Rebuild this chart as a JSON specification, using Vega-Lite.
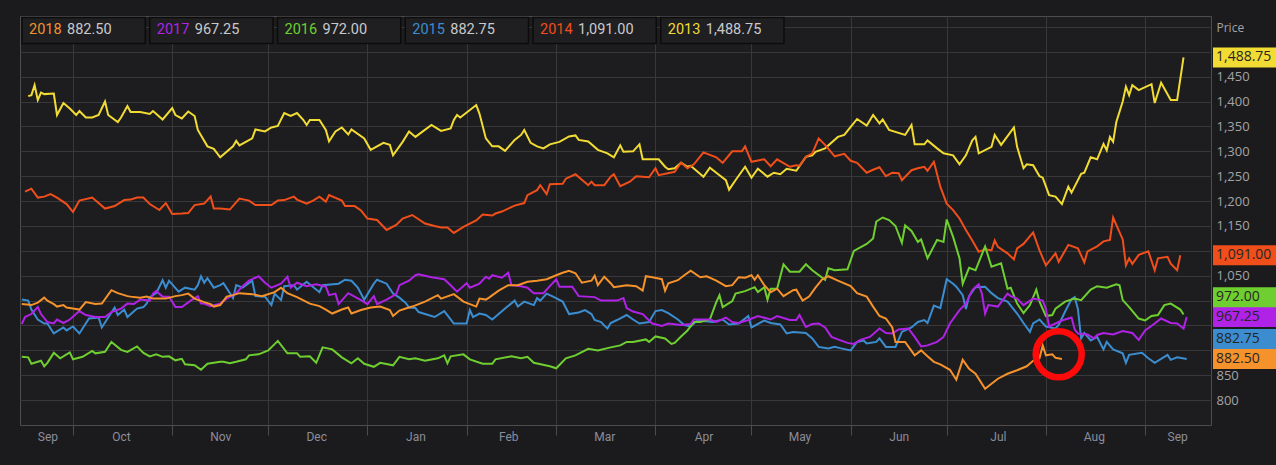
{
"$schema": "https://vega.github.io/schema/vega-lite/v6.json",
"width": 1191, "height": 409,
"autosize": {"type": "none"},
"padding": {"left": 20, "top": 16, "right": 65, "bottom": 40},
"background": "#1b1b1d",
"config": {"view": {"fill": "#1d1d1f", "stroke": "#4d4d50", "strokeWidth": 1}, "font": "Roboto"},
"datasets": {
"latest": [
{"year":"2018","last":882.5},{"year":"2017","last":967.25},{"year":"2016","last":972},{"year":"2015","last":882.75},{"year":"2014","last":1091},{"year":"2013","last":1488.75}
],
"annot": [{"date":"2018-08-05","price":892}],
"prices": [
{"year":"2013","date":"2017-09-17","price":1411},{"year":"2013","date":"2017-09-18","price":1413},{"year":"2013","date":"2017-09-19","price":1433},{"year":"2013","date":"2017-09-20","price":1403},{"year":"2013","date":"2017-09-21","price":1418},{"year":"2013","date":"2017-09-22","price":1415},{"year":"2013","date":"2017-09-25","price":1416},{"year":"2013","date":"2017-09-26","price":1373},{"year":"2013","date":"2017-09-28","price":1397},{"year":"2013","date":"2017-09-30","price":1386},{"year":"2013","date":"2017-10-02","price":1373},{"year":"2013","date":"2017-10-03","price":1381},{"year":"2013","date":"2017-10-05","price":1368},{"year":"2013","date":"2017-10-07","price":1368},{"year":"2013","date":"2017-10-09","price":1373},{"year":"2013","date":"2017-10-11","price":1400},{"year":"2013","date":"2017-10-12","price":1373},{"year":"2013","date":"2017-10-15","price":1359},{"year":"2013","date":"2017-10-16","price":1368},{"year":"2013","date":"2017-10-18","price":1391},{"year":"2013","date":"2017-10-19","price":1379},{"year":"2013","date":"2017-10-22","price":1379},{"year":"2013","date":"2017-10-25","price":1375},{"year":"2013","date":"2017-10-26","price":1381},{"year":"2013","date":"2017-10-29","price":1364},{"year":"2013","date":"2017-11-01","price":1387},{"year":"2013","date":"2017-11-02","price":1373},{"year":"2013","date":"2017-11-04","price":1366},{"year":"2013","date":"2017-11-06","price":1380},{"year":"2013","date":"2017-11-08","price":1371},{"year":"2013","date":"2017-11-09","price":1343},{"year":"2013","date":"2017-11-12","price":1310},{"year":"2013","date":"2017-11-14","price":1305},{"year":"2013","date":"2017-11-16","price":1288},{"year":"2013","date":"2017-11-20","price":1310},{"year":"2013","date":"2017-11-21","price":1321},{"year":"2013","date":"2017-11-22","price":1312},{"year":"2013","date":"2017-11-26","price":1326},{"year":"2013","date":"2017-11-27","price":1344},{"year":"2013","date":"2017-11-30","price":1340},{"year":"2013","date":"2017-12-02","price":1348},{"year":"2013","date":"2017-12-04","price":1351},{"year":"2013","date":"2017-12-06","price":1377},{"year":"2013","date":"2017-12-08","price":1371},{"year":"2013","date":"2017-12-10","price":1377},{"year":"2013","date":"2017-12-12","price":1363},{"year":"2013","date":"2017-12-13","price":1353},{"year":"2013","date":"2017-12-14","price":1363},{"year":"2013","date":"2017-12-17","price":1363},{"year":"2013","date":"2017-12-19","price":1343},{"year":"2013","date":"2017-12-20","price":1320},{"year":"2013","date":"2017-12-22","price":1340},{"year":"2013","date":"2017-12-24","price":1348},{"year":"2013","date":"2017-12-26","price":1334},{"year":"2013","date":"2017-12-27","price":1344},{"year":"2013","date":"2017-12-31","price":1326},{"year":"2013","date":"2018-01-02","price":1303},{"year":"2013","date":"2018-01-06","price":1317},{"year":"2013","date":"2018-01-08","price":1313},{"year":"2013","date":"2018-01-09","price":1292},{"year":"2013","date":"2018-01-12","price":1319},{"year":"2013","date":"2018-01-14","price":1340},{"year":"2013","date":"2018-01-16","price":1329},{"year":"2013","date":"2018-01-21","price":1353},{"year":"2013","date":"2018-01-24","price":1341},{"year":"2013","date":"2018-01-27","price":1346},{"year":"2013","date":"2018-01-28","price":1363},{"year":"2013","date":"2018-01-29","price":1373},{"year":"2013","date":"2018-01-30","price":1368},{"year":"2013","date":"2018-02-04","price":1393},{"year":"2013","date":"2018-02-05","price":1376},{"year":"2013","date":"2018-02-07","price":1326},{"year":"2013","date":"2018-02-09","price":1310},{"year":"2013","date":"2018-02-11","price":1310},{"year":"2013","date":"2018-02-13","price":1301},{"year":"2013","date":"2018-02-16","price":1323},{"year":"2013","date":"2018-02-18","price":1333},{"year":"2013","date":"2018-02-19","price":1343},{"year":"2013","date":"2018-02-21","price":1317},{"year":"2013","date":"2018-02-23","price":1310},{"year":"2013","date":"2018-02-25","price":1306},{"year":"2013","date":"2018-02-27","price":1314},{"year":"2013","date":"2018-03-02","price":1319},{"year":"2013","date":"2018-03-05","price":1330},{"year":"2013","date":"2018-03-07","price":1332},{"year":"2013","date":"2018-03-08","price":1323},{"year":"2013","date":"2018-03-11","price":1320},{"year":"2013","date":"2018-03-14","price":1303},{"year":"2013","date":"2018-03-17","price":1296},{"year":"2013","date":"2018-03-19","price":1288},{"year":"2013","date":"2018-03-21","price":1312},{"year":"2013","date":"2018-03-22","price":1299},{"year":"2013","date":"2018-03-25","price":1300},{"year":"2013","date":"2018-03-27","price":1314},{"year":"2013","date":"2018-03-28","price":1284},{"year":"2013","date":"2018-04-02","price":1284},{"year":"2013","date":"2018-04-04","price":1269},{"year":"2013","date":"2018-04-05","price":1264},{"year":"2013","date":"2018-04-07","price":1266},{"year":"2013","date":"2018-04-09","price":1277},{"year":"2013","date":"2018-04-11","price":1269},{"year":"2013","date":"2018-04-12","price":1271},{"year":"2013","date":"2018-04-16","price":1249},{"year":"2013","date":"2018-04-18","price":1267},{"year":"2013","date":"2018-04-21","price":1252},{"year":"2013","date":"2018-04-23","price":1242},{"year":"2013","date":"2018-04-24","price":1223},{"year":"2013","date":"2018-04-26","price":1242},{"year":"2013","date":"2018-04-29","price":1269},{"year":"2013","date":"2018-05-01","price":1247},{"year":"2013","date":"2018-05-03","price":1265},{"year":"2013","date":"2018-05-06","price":1249},{"year":"2013","date":"2018-05-08","price":1257},{"year":"2013","date":"2018-05-10","price":1254},{"year":"2013","date":"2018-05-12","price":1265},{"year":"2013","date":"2018-05-15","price":1261},{"year":"2013","date":"2018-05-18","price":1289},{"year":"2013","date":"2018-05-20","price":1292},{"year":"2013","date":"2018-05-21","price":1299},{"year":"2013","date":"2018-05-24","price":1306},{"year":"2013","date":"2018-05-28","price":1329},{"year":"2013","date":"2018-05-30","price":1333},{"year":"2013","date":"2018-06-01","price":1349},{"year":"2013","date":"2018-06-03","price":1365},{"year":"2013","date":"2018-06-06","price":1352},{"year":"2013","date":"2018-06-08","price":1373},{"year":"2013","date":"2018-06-10","price":1356},{"year":"2013","date":"2018-06-11","price":1364},{"year":"2013","date":"2018-06-13","price":1343},{"year":"2013","date":"2018-06-18","price":1333},{"year":"2013","date":"2018-06-20","price":1353},{"year":"2013","date":"2018-06-21","price":1314},{"year":"2013","date":"2018-06-24","price":1314},{"year":"2013","date":"2018-06-25","price":1322},{"year":"2013","date":"2018-06-28","price":1306},{"year":"2013","date":"2018-06-30","price":1296},{"year":"2013","date":"2018-07-03","price":1292},{"year":"2013","date":"2018-07-05","price":1274},{"year":"2013","date":"2018-07-07","price":1292},{"year":"2013","date":"2018-07-09","price":1322},{"year":"2013","date":"2018-07-10","price":1329},{"year":"2013","date":"2018-07-11","price":1296},{"year":"2013","date":"2018-07-15","price":1309},{"year":"2013","date":"2018-07-16","price":1333},{"year":"2013","date":"2018-07-18","price":1313},{"year":"2013","date":"2018-07-22","price":1348},{"year":"2013","date":"2018-07-23","price":1309},{"year":"2013","date":"2018-07-25","price":1266},{"year":"2013","date":"2018-07-26","price":1274},{"year":"2013","date":"2018-07-28","price":1272},{"year":"2013","date":"2018-07-30","price":1250},{"year":"2013","date":"2018-07-31","price":1247},{"year":"2013","date":"2018-08-02","price":1212},{"year":"2013","date":"2018-08-04","price":1209},{"year":"2013","date":"2018-08-06","price":1194},{"year":"2013","date":"2018-08-08","price":1229},{"year":"2013","date":"2018-08-09","price":1217},{"year":"2013","date":"2018-08-12","price":1255},{"year":"2013","date":"2018-08-13","price":1257},{"year":"2013","date":"2018-08-15","price":1288},{"year":"2013","date":"2018-08-17","price":1284},{"year":"2013","date":"2018-08-19","price":1315},{"year":"2013","date":"2018-08-20","price":1302},{"year":"2013","date":"2018-08-21","price":1329},{"year":"2013","date":"2018-08-22","price":1319},{"year":"2013","date":"2018-08-23","price":1359},{"year":"2013","date":"2018-08-25","price":1400},{"year":"2013","date":"2018-08-26","price":1430},{"year":"2013","date":"2018-08-27","price":1413},{"year":"2013","date":"2018-08-28","price":1433},{"year":"2013","date":"2018-08-30","price":1423},{"year":"2013","date":"2018-09-03","price":1435},{"year":"2013","date":"2018-09-04","price":1397},{"year":"2013","date":"2018-09-06","price":1438},{"year":"2013","date":"2018-09-09","price":1403},{"year":"2013","date":"2018-09-11","price":1403},{"year":"2013","date":"2018-09-13","price":1488.75},
{"year":"2014","date":"2017-09-16","price":1219},{"year":"2014","date":"2017-09-18","price":1225},{"year":"2014","date":"2017-09-20","price":1207},{"year":"2014","date":"2017-09-22","price":1209},{"year":"2014","date":"2017-09-24","price":1214},{"year":"2014","date":"2017-09-26","price":1207},{"year":"2014","date":"2017-09-29","price":1194},{"year":"2014","date":"2017-10-01","price":1178},{"year":"2014","date":"2017-10-03","price":1201},{"year":"2014","date":"2017-10-07","price":1207},{"year":"2014","date":"2017-10-09","price":1196},{"year":"2014","date":"2017-10-11","price":1185},{"year":"2014","date":"2017-10-14","price":1190},{"year":"2014","date":"2017-10-17","price":1202},{"year":"2014","date":"2017-10-19","price":1203},{"year":"2014","date":"2017-10-21","price":1207},{"year":"2014","date":"2017-10-23","price":1207},{"year":"2014","date":"2017-10-25","price":1194},{"year":"2014","date":"2017-10-28","price":1182},{"year":"2014","date":"2017-10-30","price":1196},{"year":"2014","date":"2017-11-01","price":1174},{"year":"2014","date":"2017-11-04","price":1175},{"year":"2014","date":"2017-11-06","price":1176},{"year":"2014","date":"2017-11-08","price":1192},{"year":"2014","date":"2017-11-11","price":1195},{"year":"2014","date":"2017-11-13","price":1209},{"year":"2014","date":"2017-11-14","price":1185},{"year":"2014","date":"2017-11-16","price":1185},{"year":"2014","date":"2017-11-19","price":1183},{"year":"2014","date":"2017-11-22","price":1205},{"year":"2014","date":"2017-11-25","price":1201},{"year":"2014","date":"2017-11-27","price":1192},{"year":"2014","date":"2017-12-02","price":1192},{"year":"2014","date":"2017-12-04","price":1201},{"year":"2014","date":"2017-12-06","price":1202},{"year":"2014","date":"2017-12-09","price":1209},{"year":"2014","date":"2017-12-10","price":1203},{"year":"2014","date":"2017-12-13","price":1195},{"year":"2014","date":"2017-12-15","price":1201},{"year":"2014","date":"2017-12-17","price":1209},{"year":"2014","date":"2017-12-19","price":1199},{"year":"2014","date":"2017-12-20","price":1212},{"year":"2014","date":"2017-12-24","price":1201},{"year":"2014","date":"2017-12-25","price":1190},{"year":"2014","date":"2017-12-28","price":1190},{"year":"2014","date":"2017-12-30","price":1181},{"year":"2014","date":"2018-01-01","price":1165},{"year":"2014","date":"2018-01-04","price":1162},{"year":"2014","date":"2018-01-07","price":1142},{"year":"2014","date":"2018-01-10","price":1152},{"year":"2014","date":"2018-01-12","price":1165},{"year":"2014","date":"2018-01-15","price":1172},{"year":"2014","date":"2018-01-19","price":1155},{"year":"2014","date":"2018-01-22","price":1150},{"year":"2014","date":"2018-01-24","price":1147},{"year":"2014","date":"2018-01-26","price":1147},{"year":"2014","date":"2018-01-28","price":1136},{"year":"2014","date":"2018-01-31","price":1148},{"year":"2014","date":"2018-02-04","price":1161},{"year":"2014","date":"2018-02-06","price":1173},{"year":"2014","date":"2018-02-09","price":1171},{"year":"2014","date":"2018-02-10","price":1175},{"year":"2014","date":"2018-02-12","price":1179},{"year":"2014","date":"2018-02-16","price":1191},{"year":"2014","date":"2018-02-19","price":1196},{"year":"2014","date":"2018-02-20","price":1212},{"year":"2014","date":"2018-02-23","price":1222},{"year":"2014","date":"2018-02-24","price":1232},{"year":"2014","date":"2018-02-26","price":1214},{"year":"2014","date":"2018-02-27","price":1234},{"year":"2014","date":"2018-03-03","price":1235},{"year":"2014","date":"2018-03-04","price":1245},{"year":"2014","date":"2018-03-07","price":1254},{"year":"2014","date":"2018-03-09","price":1243},{"year":"2014","date":"2018-03-11","price":1232},{"year":"2014","date":"2018-03-12","price":1239},{"year":"2014","date":"2018-03-13","price":1232},{"year":"2014","date":"2018-03-16","price":1232},{"year":"2014","date":"2018-03-18","price":1249},{"year":"2014","date":"2018-03-19","price":1254},{"year":"2014","date":"2018-03-21","price":1230},{"year":"2014","date":"2018-03-24","price":1239},{"year":"2014","date":"2018-03-26","price":1250},{"year":"2014","date":"2018-03-30","price":1248},{"year":"2014","date":"2018-04-01","price":1266},{"year":"2014","date":"2018-04-02","price":1252},{"year":"2014","date":"2018-04-07","price":1259},{"year":"2014","date":"2018-04-09","price":1277},{"year":"2014","date":"2018-04-11","price":1266},{"year":"2014","date":"2018-04-13","price":1274},{"year":"2014","date":"2018-04-16","price":1298},{"year":"2014","date":"2018-04-20","price":1288},{"year":"2014","date":"2018-04-22","price":1277},{"year":"2014","date":"2018-04-25","price":1300},{"year":"2014","date":"2018-04-28","price":1300},{"year":"2014","date":"2018-04-29","price":1310},{"year":"2014","date":"2018-05-01","price":1279},{"year":"2014","date":"2018-05-05","price":1284},{"year":"2014","date":"2018-05-07","price":1270},{"year":"2014","date":"2018-05-09","price":1284},{"year":"2014","date":"2018-05-13","price":1269},{"year":"2014","date":"2018-05-15","price":1272},{"year":"2014","date":"2018-05-16","price":1271},{"year":"2014","date":"2018-05-18","price":1289},{"year":"2014","date":"2018-05-20","price":1296},{"year":"2014","date":"2018-05-22","price":1326},{"year":"2014","date":"2018-05-24","price":1313},{"year":"2014","date":"2018-05-27","price":1290},{"year":"2014","date":"2018-05-30","price":1295},{"year":"2014","date":"2018-06-01","price":1281},{"year":"2014","date":"2018-06-03","price":1277},{"year":"2014","date":"2018-06-06","price":1257},{"year":"2014","date":"2018-06-08","price":1263},{"year":"2014","date":"2018-06-10","price":1268},{"year":"2014","date":"2018-06-12","price":1250},{"year":"2014","date":"2018-06-14","price":1257},{"year":"2014","date":"2018-06-16","price":1256},{"year":"2014","date":"2018-06-17","price":1242},{"year":"2014","date":"2018-06-20","price":1262},{"year":"2014","date":"2018-06-22","price":1266},{"year":"2014","date":"2018-06-24","price":1269},{"year":"2014","date":"2018-06-25","price":1261},{"year":"2014","date":"2018-06-27","price":1279},{"year":"2014","date":"2018-06-29","price":1229},{"year":"2014","date":"2018-07-01","price":1195},{"year":"2014","date":"2018-07-03","price":1182},{"year":"2014","date":"2018-07-05","price":1165},{"year":"2014","date":"2018-07-07","price":1142},{"year":"2014","date":"2018-07-09","price":1121},{"year":"2014","date":"2018-07-11","price":1098},{"year":"2014","date":"2018-07-13","price":1103},{"year":"2014","date":"2018-07-15","price":1101},{"year":"2014","date":"2018-07-16","price":1121},{"year":"2014","date":"2018-07-17","price":1108},{"year":"2014","date":"2018-07-20","price":1095},{"year":"2014","date":"2018-07-22","price":1083},{"year":"2014","date":"2018-07-23","price":1105},{"year":"2014","date":"2018-07-25","price":1114},{"year":"2014","date":"2018-07-28","price":1137},{"year":"2014","date":"2018-07-30","price":1101},{"year":"2014","date":"2018-08-01","price":1071},{"year":"2014","date":"2018-08-04","price":1095},{"year":"2014","date":"2018-08-05","price":1078},{"year":"2014","date":"2018-08-08","price":1112},{"year":"2014","date":"2018-08-11","price":1105},{"year":"2014","date":"2018-08-13","price":1077},{"year":"2014","date":"2018-08-14","price":1099},{"year":"2014","date":"2018-08-17","price":1109},{"year":"2014","date":"2018-08-19","price":1119},{"year":"2014","date":"2018-08-21","price":1122},{"year":"2014","date":"2018-08-22","price":1167},{"year":"2014","date":"2018-08-25","price":1123},{"year":"2014","date":"2018-08-26","price":1071},{"year":"2014","date":"2018-08-27","price":1085},{"year":"2014","date":"2018-08-28","price":1074},{"year":"2014","date":"2018-08-30","price":1092},{"year":"2014","date":"2018-09-02","price":1099},{"year":"2014","date":"2018-09-04","price":1061},{"year":"2014","date":"2018-09-05","price":1085},{"year":"2014","date":"2018-09-08","price":1088},{"year":"2014","date":"2018-09-09","price":1074},{"year":"2014","date":"2018-09-11","price":1061},{"year":"2014","date":"2018-09-12","price":1091},
{"year":"2015","date":"2017-09-15","price":1002},{"year":"2015","date":"2017-09-17","price":1000},{"year":"2015","date":"2017-09-18","price":982},{"year":"2015","date":"2017-09-20","price":962},{"year":"2015","date":"2017-09-22","price":954},{"year":"2015","date":"2017-09-23","price":954},{"year":"2015","date":"2017-09-25","price":934},{"year":"2015","date":"2017-09-28","price":946},{"year":"2015","date":"2017-09-29","price":940},{"year":"2015","date":"2017-10-01","price":948},{"year":"2015","date":"2017-10-03","price":934},{"year":"2015","date":"2017-10-06","price":964},{"year":"2015","date":"2017-10-09","price":966},{"year":"2015","date":"2017-10-10","price":946},{"year":"2015","date":"2017-10-14","price":986},{"year":"2015","date":"2017-10-15","price":971},{"year":"2015","date":"2017-10-17","price":982},{"year":"2015","date":"2017-10-18","price":967},{"year":"2015","date":"2017-10-21","price":984},{"year":"2015","date":"2017-10-23","price":987},{"year":"2015","date":"2017-10-24","price":994},{"year":"2015","date":"2017-10-25","price":1007},{"year":"2015","date":"2017-10-27","price":1015},{"year":"2015","date":"2017-10-29","price":1041},{"year":"2015","date":"2017-10-30","price":1026},{"year":"2015","date":"2017-10-31","price":1040},{"year":"2015","date":"2017-11-03","price":1018},{"year":"2015","date":"2017-11-05","price":1026},{"year":"2015","date":"2017-11-08","price":1022},{"year":"2015","date":"2017-11-09","price":1031},{"year":"2015","date":"2017-11-10","price":1049},{"year":"2015","date":"2017-11-11","price":1036},{"year":"2015","date":"2017-11-12","price":1045},{"year":"2015","date":"2017-11-14","price":1026},{"year":"2015","date":"2017-11-16","price":1031},{"year":"2015","date":"2017-11-17","price":1035},{"year":"2015","date":"2017-11-20","price":1005},{"year":"2015","date":"2017-11-21","price":1031},{"year":"2015","date":"2017-11-23","price":1026},{"year":"2015","date":"2017-11-26","price":1040},{"year":"2015","date":"2017-11-27","price":1009},{"year":"2015","date":"2017-11-30","price":1008},{"year":"2015","date":"2017-12-02","price":991},{"year":"2015","date":"2017-12-03","price":1014},{"year":"2015","date":"2017-12-05","price":1001},{"year":"2015","date":"2017-12-06","price":1029},{"year":"2015","date":"2017-12-09","price":1031},{"year":"2015","date":"2017-12-10","price":1022},{"year":"2015","date":"2017-12-13","price":1038},{"year":"2015","date":"2017-12-17","price":1017},{"year":"2015","date":"2017-12-18","price":1031},{"year":"2015","date":"2017-12-23","price":1034},{"year":"2015","date":"2017-12-25","price":1042},{"year":"2015","date":"2017-12-27","price":1040},{"year":"2015","date":"2017-12-29","price":1026},{"year":"2015","date":"2017-12-31","price":1002},{"year":"2015","date":"2018-01-03","price":1034},{"year":"2015","date":"2018-01-04","price":1042},{"year":"2015","date":"2018-01-07","price":1034},{"year":"2015","date":"2018-01-09","price":1014},{"year":"2015","date":"2018-01-11","price":1006},{"year":"2015","date":"2018-01-13","price":995},{"year":"2015","date":"2018-01-14","price":986},{"year":"2015","date":"2018-01-16","price":985},{"year":"2015","date":"2018-01-17","price":977},{"year":"2015","date":"2018-01-22","price":967},{"year":"2015","date":"2018-01-25","price":979},{"year":"2015","date":"2018-01-28","price":954},{"year":"2015","date":"2018-02-01","price":954},{"year":"2015","date":"2018-02-02","price":981},{"year":"2015","date":"2018-02-03","price":967},{"year":"2015","date":"2018-02-05","price":974},{"year":"2015","date":"2018-02-07","price":971},{"year":"2015","date":"2018-02-09","price":962},{"year":"2015","date":"2018-02-13","price":984},{"year":"2015","date":"2018-02-16","price":1000},{"year":"2015","date":"2018-02-17","price":988},{"year":"2015","date":"2018-02-19","price":998},{"year":"2015","date":"2018-02-22","price":991},{"year":"2015","date":"2018-02-23","price":1005},{"year":"2015","date":"2018-02-24","price":1000},{"year":"2015","date":"2018-02-26","price":1014},{"year":"2015","date":"2018-02-28","price":1008},{"year":"2015","date":"2018-03-03","price":998},{"year":"2015","date":"2018-03-05","price":973},{"year":"2015","date":"2018-03-08","price":976},{"year":"2015","date":"2018-03-10","price":981},{"year":"2015","date":"2018-03-12","price":973},{"year":"2015","date":"2018-03-13","price":961},{"year":"2015","date":"2018-03-15","price":957},{"year":"2015","date":"2018-03-16","price":950},{"year":"2015","date":"2018-03-17","price":944},{"year":"2015","date":"2018-03-18","price":955},{"year":"2015","date":"2018-03-20","price":961},{"year":"2015","date":"2018-03-23","price":971},{"year":"2015","date":"2018-03-25","price":962},{"year":"2015","date":"2018-03-27","price":954},{"year":"2015","date":"2018-03-30","price":957},{"year":"2015","date":"2018-04-01","price":979},{"year":"2015","date":"2018-04-03","price":981},{"year":"2015","date":"2018-04-05","price":975},{"year":"2015","date":"2018-04-08","price":962},{"year":"2015","date":"2018-04-10","price":951},{"year":"2015","date":"2018-04-12","price":948},{"year":"2015","date":"2018-04-14","price":960},{"year":"2015","date":"2018-04-19","price":957},{"year":"2015","date":"2018-04-22","price":962},{"year":"2015","date":"2018-04-24","price":952},{"year":"2015","date":"2018-04-27","price":954},{"year":"2015","date":"2018-04-30","price":969},{"year":"2015","date":"2018-05-01","price":946},{"year":"2015","date":"2018-05-05","price":960},{"year":"2015","date":"2018-05-07","price":955},{"year":"2015","date":"2018-05-10","price":952},{"year":"2015","date":"2018-05-12","price":934},{"year":"2015","date":"2018-05-14","price":937},{"year":"2015","date":"2018-05-18","price":935},{"year":"2015","date":"2018-05-20","price":924},{"year":"2015","date":"2018-05-22","price":907},{"year":"2015","date":"2018-05-25","price":904},{"year":"2015","date":"2018-05-27","price":907},{"year":"2015","date":"2018-05-29","price":904},{"year":"2015","date":"2018-06-01","price":900},{"year":"2015","date":"2018-06-03","price":917},{"year":"2015","date":"2018-06-05","price":920},{"year":"2015","date":"2018-06-06","price":914},{"year":"2015","date":"2018-06-09","price":917},{"year":"2015","date":"2018-06-10","price":924},{"year":"2015","date":"2018-06-12","price":907},{"year":"2015","date":"2018-06-15","price":907},{"year":"2015","date":"2018-06-17","price":937},{"year":"2015","date":"2018-06-20","price":946},{"year":"2015","date":"2018-06-22","price":957},{"year":"2015","date":"2018-06-24","price":961},{"year":"2015","date":"2018-06-25","price":955},{"year":"2015","date":"2018-06-27","price":990},{"year":"2015","date":"2018-06-29","price":985},{"year":"2015","date":"2018-07-01","price":1043},{"year":"2015","date":"2018-07-03","price":1034},{"year":"2015","date":"2018-07-04","price":1028},{"year":"2015","date":"2018-07-06","price":1011},{"year":"2015","date":"2018-07-07","price":983},{"year":"2015","date":"2018-07-08","price":1009},{"year":"2015","date":"2018-07-10","price":1027},{"year":"2015","date":"2018-07-13","price":1028},{"year":"2015","date":"2018-07-15","price":1015},{"year":"2015","date":"2018-07-17","price":1005},{"year":"2015","date":"2018-07-20","price":998},{"year":"2015","date":"2018-07-23","price":974},{"year":"2015","date":"2018-07-25","price":955},{"year":"2015","date":"2018-07-27","price":937},{"year":"2015","date":"2018-07-28","price":954},{"year":"2015","date":"2018-07-30","price":962},{"year":"2015","date":"2018-08-01","price":948},{"year":"2015","date":"2018-08-04","price":944},{"year":"2015","date":"2018-08-05","price":951},{"year":"2015","date":"2018-08-07","price":978},{"year":"2015","date":"2018-08-09","price":1003},{"year":"2015","date":"2018-08-10","price":1007},{"year":"2015","date":"2018-08-11","price":983},{"year":"2015","date":"2018-08-12","price":924},{"year":"2015","date":"2018-08-13","price":935},{"year":"2015","date":"2018-08-15","price":920},{"year":"2015","date":"2018-08-17","price":927},{"year":"2015","date":"2018-08-19","price":902},{"year":"2015","date":"2018-08-20","price":917},{"year":"2015","date":"2018-08-22","price":902},{"year":"2015","date":"2018-08-25","price":894},{"year":"2015","date":"2018-08-26","price":875},{"year":"2015","date":"2018-08-27","price":891},{"year":"2015","date":"2018-08-31","price":895},{"year":"2015","date":"2018-09-02","price":884},{"year":"2015","date":"2018-09-04","price":875},{"year":"2015","date":"2018-09-08","price":891},{"year":"2015","date":"2018-09-09","price":881},{"year":"2015","date":"2018-09-11","price":886},{"year":"2015","date":"2018-09-14","price":882.75},
{"year":"2016","date":"2017-09-15","price":887},{"year":"2016","date":"2017-09-17","price":886},{"year":"2016","date":"2017-09-18","price":873},{"year":"2016","date":"2017-09-21","price":879},{"year":"2016","date":"2017-09-22","price":868},{"year":"2016","date":"2017-09-23","price":875},{"year":"2016","date":"2017-09-25","price":895},{"year":"2016","date":"2017-09-27","price":884},{"year":"2016","date":"2017-09-30","price":896},{"year":"2016","date":"2017-10-01","price":882},{"year":"2016","date":"2017-10-04","price":887},{"year":"2016","date":"2017-10-07","price":899},{"year":"2016","date":"2017-10-08","price":894},{"year":"2016","date":"2017-10-11","price":897},{"year":"2016","date":"2017-10-13","price":917},{"year":"2016","date":"2017-10-16","price":901},{"year":"2016","date":"2017-10-18","price":897},{"year":"2016","date":"2017-10-21","price":908},{"year":"2016","date":"2017-10-23","price":895},{"year":"2016","date":"2017-10-25","price":888},{"year":"2016","date":"2017-10-27","price":892},{"year":"2016","date":"2017-10-29","price":887},{"year":"2016","date":"2017-10-31","price":888},{"year":"2016","date":"2017-11-02","price":880},{"year":"2016","date":"2017-11-04","price":883},{"year":"2016","date":"2017-11-05","price":872},{"year":"2016","date":"2017-11-08","price":870},{"year":"2016","date":"2017-11-10","price":861},{"year":"2016","date":"2017-11-12","price":873},{"year":"2016","date":"2017-11-16","price":877},{"year":"2016","date":"2017-11-17","price":877},{"year":"2016","date":"2017-11-19","price":874},{"year":"2016","date":"2017-11-21","price":877},{"year":"2016","date":"2017-11-24","price":882},{"year":"2016","date":"2017-11-25","price":890},{"year":"2016","date":"2017-11-28","price":892},{"year":"2016","date":"2017-12-01","price":900},{"year":"2016","date":"2017-12-04","price":919},{"year":"2016","date":"2017-12-07","price":894},{"year":"2016","date":"2017-12-10","price":894},{"year":"2016","date":"2017-12-11","price":887},{"year":"2016","date":"2017-12-14","price":888},{"year":"2016","date":"2017-12-16","price":875},{"year":"2016","date":"2017-12-18","price":906},{"year":"2016","date":"2017-12-21","price":902},{"year":"2016","date":"2017-12-24","price":886},{"year":"2016","date":"2017-12-27","price":874},{"year":"2016","date":"2017-12-29","price":884},{"year":"2016","date":"2017-12-31","price":873},{"year":"2016","date":"2018-01-03","price":867},{"year":"2016","date":"2018-01-05","price":875},{"year":"2016","date":"2018-01-09","price":870},{"year":"2016","date":"2018-01-11","price":887},{"year":"2016","date":"2018-01-14","price":882},{"year":"2016","date":"2018-01-16","price":884},{"year":"2016","date":"2018-01-19","price":879},{"year":"2016","date":"2018-01-23","price":884},{"year":"2016","date":"2018-01-25","price":890},{"year":"2016","date":"2018-01-26","price":874},{"year":"2016","date":"2018-01-27","price":888},{"year":"2016","date":"2018-01-31","price":892},{"year":"2016","date":"2018-02-02","price":882},{"year":"2016","date":"2018-02-06","price":873},{"year":"2016","date":"2018-02-09","price":873},{"year":"2016","date":"2018-02-10","price":882},{"year":"2016","date":"2018-02-15","price":888},{"year":"2016","date":"2018-02-18","price":884},{"year":"2016","date":"2018-02-20","price":887},{"year":"2016","date":"2018-02-22","price":875},{"year":"2016","date":"2018-02-27","price":868},{"year":"2016","date":"2018-03-01","price":864},{"year":"2016","date":"2018-03-04","price":884},{"year":"2016","date":"2018-03-07","price":890},{"year":"2016","date":"2018-03-11","price":903},{"year":"2016","date":"2018-03-14","price":900},{"year":"2016","date":"2018-03-18","price":906},{"year":"2016","date":"2018-03-21","price":910},{"year":"2016","date":"2018-03-23","price":917},{"year":"2016","date":"2018-03-25","price":917},{"year":"2016","date":"2018-03-29","price":922},{"year":"2016","date":"2018-03-30","price":917},{"year":"2016","date":"2018-04-01","price":928},{"year":"2016","date":"2018-04-04","price":924},{"year":"2016","date":"2018-04-06","price":913},{"year":"2016","date":"2018-04-07","price":915},{"year":"2016","date":"2018-04-09","price":928},{"year":"2016","date":"2018-04-11","price":940},{"year":"2016","date":"2018-04-13","price":957},{"year":"2016","date":"2018-04-15","price":957},{"year":"2016","date":"2018-04-18","price":962},{"year":"2016","date":"2018-04-20","price":997},{"year":"2016","date":"2018-04-21","price":1011},{"year":"2016","date":"2018-04-22","price":987},{"year":"2016","date":"2018-04-25","price":999},{"year":"2016","date":"2018-04-26","price":1014},{"year":"2016","date":"2018-04-29","price":1019},{"year":"2016","date":"2018-05-02","price":1027},{"year":"2016","date":"2018-05-03","price":1017},{"year":"2016","date":"2018-05-05","price":1027},{"year":"2016","date":"2018-05-06","price":1002},{"year":"2016","date":"2018-05-07","price":1024},{"year":"2016","date":"2018-05-09","price":1024},{"year":"2016","date":"2018-05-11","price":1073},{"year":"2016","date":"2018-05-13","price":1058},{"year":"2016","date":"2018-05-16","price":1058},{"year":"2016","date":"2018-05-18","price":1073},{"year":"2016","date":"2018-05-20","price":1061},{"year":"2016","date":"2018-05-24","price":1042},{"year":"2016","date":"2018-05-25","price":1065},{"year":"2016","date":"2018-05-27","price":1061},{"year":"2016","date":"2018-05-31","price":1063},{"year":"2016","date":"2018-06-02","price":1100},{"year":"2016","date":"2018-06-06","price":1114},{"year":"2016","date":"2018-06-08","price":1125},{"year":"2016","date":"2018-06-09","price":1159},{"year":"2016","date":"2018-06-11","price":1167},{"year":"2016","date":"2018-06-13","price":1162},{"year":"2016","date":"2018-06-15","price":1150},{"year":"2016","date":"2018-06-17","price":1116},{"year":"2016","date":"2018-06-18","price":1151},{"year":"2016","date":"2018-06-20","price":1140},{"year":"2016","date":"2018-06-22","price":1118},{"year":"2016","date":"2018-06-23","price":1123},{"year":"2016","date":"2018-06-25","price":1085},{"year":"2016","date":"2018-06-28","price":1122},{"year":"2016","date":"2018-06-30","price":1118},{"year":"2016","date":"2018-07-01","price":1163},{"year":"2016","date":"2018-07-03","price":1128},{"year":"2016","date":"2018-07-05","price":1085},{"year":"2016","date":"2018-07-06","price":1034},{"year":"2016","date":"2018-07-08","price":1066},{"year":"2016","date":"2018-07-10","price":1061},{"year":"2016","date":"2018-07-13","price":1109},{"year":"2016","date":"2018-07-15","price":1068},{"year":"2016","date":"2018-07-18","price":1075},{"year":"2016","date":"2018-07-20","price":1024},{"year":"2016","date":"2018-07-21","price":1026},{"year":"2016","date":"2018-07-23","price":994},{"year":"2016","date":"2018-07-25","price":975},{"year":"2016","date":"2018-07-27","price":991},{"year":"2016","date":"2018-07-29","price":1022},{"year":"2016","date":"2018-07-30","price":998},{"year":"2016","date":"2018-08-01","price":969},{"year":"2016","date":"2018-08-03","price":971},{"year":"2016","date":"2018-08-04","price":984},{"year":"2016","date":"2018-08-07","price":998},{"year":"2016","date":"2018-08-10","price":1004},{"year":"2016","date":"2018-08-12","price":1001},{"year":"2016","date":"2018-08-15","price":1022},{"year":"2016","date":"2018-08-17","price":1029},{"year":"2016","date":"2018-08-20","price":1026},{"year":"2016","date":"2018-08-23","price":1033},{"year":"2016","date":"2018-08-24","price":1031},{"year":"2016","date":"2018-08-25","price":1001},{"year":"2016","date":"2018-08-27","price":987},{"year":"2016","date":"2018-08-30","price":964},{"year":"2016","date":"2018-09-01","price":960},{"year":"2016","date":"2018-09-03","price":969},{"year":"2016","date":"2018-09-05","price":971},{"year":"2016","date":"2018-09-07","price":991},{"year":"2016","date":"2018-09-09","price":994},{"year":"2016","date":"2018-09-12","price":982},{"year":"2016","date":"2018-09-13","price":972},
{"year":"2017","date":"2017-09-15","price":953},{"year":"2017","date":"2017-09-16","price":967},{"year":"2017","date":"2017-09-18","price":973},{"year":"2017","date":"2017-09-20","price":987},{"year":"2017","date":"2017-09-21","price":973},{"year":"2017","date":"2017-09-23","price":957},{"year":"2017","date":"2017-09-25","price":954},{"year":"2017","date":"2017-09-26","price":962},{"year":"2017","date":"2017-09-28","price":955},{"year":"2017","date":"2017-09-30","price":962},{"year":"2017","date":"2017-10-03","price":979},{"year":"2017","date":"2017-10-05","price":971},{"year":"2017","date":"2017-10-08","price":967},{"year":"2017","date":"2017-10-11","price":967},{"year":"2017","date":"2017-10-13","price":977},{"year":"2017","date":"2017-10-16","price":984},{"year":"2017","date":"2017-10-18","price":994},{"year":"2017","date":"2017-10-20","price":993},{"year":"2017","date":"2017-10-22","price":1002},{"year":"2017","date":"2017-10-25","price":1000},{"year":"2017","date":"2017-10-26","price":1014},{"year":"2017","date":"2017-10-27","price":1019},{"year":"2017","date":"2017-10-29","price":1008},{"year":"2017","date":"2017-10-31","price":1008},{"year":"2017","date":"2017-11-02","price":987},{"year":"2017","date":"2017-11-04","price":987},{"year":"2017","date":"2017-11-07","price":1001},{"year":"2017","date":"2017-11-09","price":1009},{"year":"2017","date":"2017-11-10","price":994},{"year":"2017","date":"2017-11-11","price":994},{"year":"2017","date":"2017-11-13","price":989},{"year":"2017","date":"2017-11-16","price":994},{"year":"2017","date":"2017-11-18","price":1004},{"year":"2017","date":"2017-11-21","price":1015},{"year":"2017","date":"2017-11-23","price":1029},{"year":"2017","date":"2017-11-25","price":1040},{"year":"2017","date":"2017-11-28","price":1049},{"year":"2017","date":"2017-11-30","price":1036},{"year":"2017","date":"2017-12-02","price":1026},{"year":"2017","date":"2017-12-05","price":1034},{"year":"2017","date":"2017-12-07","price":1048},{"year":"2017","date":"2017-12-08","price":1026},{"year":"2017","date":"2017-12-10","price":1036},{"year":"2017","date":"2017-12-13","price":1029},{"year":"2017","date":"2017-12-16","price":1033},{"year":"2017","date":"2017-12-19","price":1028},{"year":"2017","date":"2017-12-20","price":1011},{"year":"2017","date":"2017-12-22","price":1014},{"year":"2017","date":"2017-12-23","price":993},{"year":"2017","date":"2017-12-26","price":1015},{"year":"2017","date":"2017-12-30","price":1001},{"year":"2017","date":"2018-01-01","price":993},{"year":"2017","date":"2018-01-03","price":1009},{"year":"2017","date":"2018-01-04","price":993},{"year":"2017","date":"2018-01-07","price":1002},{"year":"2017","date":"2018-01-10","price":1013},{"year":"2017","date":"2018-01-11","price":1031},{"year":"2017","date":"2018-01-14","price":1040},{"year":"2017","date":"2018-01-16","price":1051},{"year":"2017","date":"2018-01-17","price":1053},{"year":"2017","date":"2018-01-21","price":1047},{"year":"2017","date":"2018-01-23","price":1045},{"year":"2017","date":"2018-01-25","price":1043},{"year":"2017","date":"2018-01-27","price":1031},{"year":"2017","date":"2018-01-29","price":1018},{"year":"2017","date":"2018-02-01","price":1035},{"year":"2017","date":"2018-02-02","price":1026},{"year":"2017","date":"2018-02-05","price":1034},{"year":"2017","date":"2018-02-07","price":1048},{"year":"2017","date":"2018-02-08","price":1044},{"year":"2017","date":"2018-02-09","price":1051},{"year":"2017","date":"2018-02-12","price":1046},{"year":"2017","date":"2018-02-14","price":1056},{"year":"2017","date":"2018-02-15","price":1031},{"year":"2017","date":"2018-02-18","price":1029},{"year":"2017","date":"2018-02-20","price":1026},{"year":"2017","date":"2018-02-22","price":1015},{"year":"2017","date":"2018-02-25","price":1015},{"year":"2017","date":"2018-02-27","price":1029},{"year":"2017","date":"2018-03-01","price":1043},{"year":"2017","date":"2018-03-02","price":1028},{"year":"2017","date":"2018-03-06","price":1028},{"year":"2017","date":"2018-03-08","price":1009},{"year":"2017","date":"2018-03-13","price":1007},{"year":"2017","date":"2018-03-15","price":1000},{"year":"2017","date":"2018-03-20","price":1000},{"year":"2017","date":"2018-03-22","price":1005},{"year":"2017","date":"2018-03-23","price":985},{"year":"2017","date":"2018-03-25","price":978},{"year":"2017","date":"2018-03-28","price":973},{"year":"2017","date":"2018-03-31","price":954},{"year":"2017","date":"2018-04-03","price":949},{"year":"2017","date":"2018-04-05","price":954},{"year":"2017","date":"2018-04-09","price":951},{"year":"2017","date":"2018-04-12","price":953},{"year":"2017","date":"2018-04-13","price":962},{"year":"2017","date":"2018-04-18","price":962},{"year":"2017","date":"2018-04-20","price":957},{"year":"2017","date":"2018-04-23","price":966},{"year":"2017","date":"2018-04-25","price":957},{"year":"2017","date":"2018-04-27","price":955},{"year":"2017","date":"2018-04-30","price":961},{"year":"2017","date":"2018-05-03","price":969},{"year":"2017","date":"2018-05-07","price":962},{"year":"2017","date":"2018-05-09","price":969},{"year":"2017","date":"2018-05-13","price":961},{"year":"2017","date":"2018-05-15","price":961},{"year":"2017","date":"2018-05-16","price":971},{"year":"2017","date":"2018-05-18","price":947},{"year":"2017","date":"2018-05-20","price":953},{"year":"2017","date":"2018-05-22","price":954},{"year":"2017","date":"2018-05-24","price":946},{"year":"2017","date":"2018-05-26","price":927},{"year":"2017","date":"2018-05-28","price":922},{"year":"2017","date":"2018-05-31","price":915},{"year":"2017","date":"2018-06-02","price":913},{"year":"2017","date":"2018-06-04","price":921},{"year":"2017","date":"2018-06-07","price":927},{"year":"2017","date":"2018-06-10","price":944},{"year":"2017","date":"2018-06-12","price":935},{"year":"2017","date":"2018-06-14","price":934},{"year":"2017","date":"2018-06-16","price":942},{"year":"2017","date":"2018-06-19","price":944},{"year":"2017","date":"2018-06-21","price":927},{"year":"2017","date":"2018-06-23","price":908},{"year":"2017","date":"2018-06-25","price":910},{"year":"2017","date":"2018-06-28","price":917},{"year":"2017","date":"2018-06-30","price":927},{"year":"2017","date":"2018-07-02","price":954},{"year":"2017","date":"2018-07-05","price":981},{"year":"2017","date":"2018-07-07","price":994},{"year":"2017","date":"2018-07-09","price":1021},{"year":"2017","date":"2018-07-11","price":1033},{"year":"2017","date":"2018-07-12","price":1014},{"year":"2017","date":"2018-07-13","price":974},{"year":"2017","date":"2018-07-14","price":991},{"year":"2017","date":"2018-07-17","price":988},{"year":"2017","date":"2018-07-20","price":1014},{"year":"2017","date":"2018-07-21","price":1009},{"year":"2017","date":"2018-07-23","price":1004},{"year":"2017","date":"2018-07-25","price":991},{"year":"2017","date":"2018-07-28","price":1004},{"year":"2017","date":"2018-07-31","price":1000},{"year":"2017","date":"2018-08-01","price":983},{"year":"2017","date":"2018-08-02","price":948},{"year":"2017","date":"2018-08-04","price":954},{"year":"2017","date":"2018-08-06","price":960},{"year":"2017","date":"2018-08-09","price":966},{"year":"2017","date":"2018-08-10","price":942},{"year":"2017","date":"2018-08-11","price":934},{"year":"2017","date":"2018-08-14","price":932},{"year":"2017","date":"2018-08-16","price":924},{"year":"2017","date":"2018-08-17","price":931},{"year":"2017","date":"2018-08-19","price":935},{"year":"2017","date":"2018-08-22","price":932},{"year":"2017","date":"2018-08-25","price":939},{"year":"2017","date":"2018-08-28","price":935},{"year":"2017","date":"2018-08-30","price":921},{"year":"2017","date":"2018-09-01","price":940},{"year":"2017","date":"2018-09-04","price":954},{"year":"2017","date":"2018-09-06","price":964},{"year":"2017","date":"2018-09-09","price":955},{"year":"2017","date":"2018-09-11","price":954},{"year":"2017","date":"2018-09-13","price":944},{"year":"2017","date":"2018-09-14","price":967.25},
{"year":"2018","date":"2017-09-15","price":993},{"year":"2018","date":"2017-09-18","price":991},{"year":"2018","date":"2017-09-20","price":996},{"year":"2018","date":"2017-09-22","price":1006},{"year":"2018","date":"2017-09-23","price":1000},{"year":"2018","date":"2017-09-25","price":993},{"year":"2018","date":"2017-09-26","price":988},{"year":"2018","date":"2017-09-28","price":991},{"year":"2018","date":"2017-09-29","price":986},{"year":"2018","date":"2017-10-01","price":984},{"year":"2018","date":"2017-10-03","price":982},{"year":"2018","date":"2017-10-05","price":997},{"year":"2018","date":"2017-10-08","price":993},{"year":"2018","date":"2017-10-10","price":994},{"year":"2018","date":"2017-10-13","price":1021},{"year":"2018","date":"2017-10-15","price":1015},{"year":"2018","date":"2017-10-18","price":1009},{"year":"2018","date":"2017-10-19","price":1008},{"year":"2018","date":"2017-10-22","price":1006},{"year":"2018","date":"2017-10-24","price":1008},{"year":"2018","date":"2017-10-26","price":1004},{"year":"2018","date":"2017-10-30","price":1004},{"year":"2018","date":"2017-11-02","price":1009},{"year":"2018","date":"2017-11-04","price":1011},{"year":"2018","date":"2017-11-06","price":1014},{"year":"2018","date":"2017-11-08","price":1004},{"year":"2018","date":"2017-11-11","price":997},{"year":"2018","date":"2017-11-13","price":993},{"year":"2018","date":"2017-11-14","price":988},{"year":"2018","date":"2017-11-16","price":991},{"year":"2018","date":"2017-11-18","price":1008},{"year":"2018","date":"2017-11-20","price":1011},{"year":"2018","date":"2017-11-22","price":1015},{"year":"2018","date":"2017-11-26","price":1013},{"year":"2018","date":"2017-11-29","price":1009},{"year":"2018","date":"2017-12-03","price":1017},{"year":"2018","date":"2017-12-05","price":1026},{"year":"2018","date":"2017-12-07","price":1015},{"year":"2018","date":"2017-12-10","price":1007},{"year":"2018","date":"2017-12-14","price":994},{"year":"2018","date":"2017-12-17","price":989},{"year":"2018","date":"2017-12-19","price":982},{"year":"2018","date":"2017-12-21","price":974},{"year":"2018","date":"2017-12-24","price":982},{"year":"2018","date":"2017-12-26","price":986},{"year":"2018","date":"2017-12-27","price":974},{"year":"2018","date":"2017-12-30","price":981},{"year":"2018","date":"2018-01-02","price":986},{"year":"2018","date":"2018-01-05","price":988},{"year":"2018","date":"2018-01-08","price":981},{"year":"2018","date":"2018-01-09","price":969},{"year":"2018","date":"2018-01-11","price":980},{"year":"2018","date":"2018-01-13","price":984},{"year":"2018","date":"2018-01-15","price":988},{"year":"2018","date":"2018-01-19","price":998},{"year":"2018","date":"2018-01-23","price":1011},{"year":"2018","date":"2018-01-24","price":1004},{"year":"2018","date":"2018-01-28","price":1013},{"year":"2018","date":"2018-01-31","price":998},{"year":"2018","date":"2018-02-04","price":988},{"year":"2018","date":"2018-02-05","price":1004},{"year":"2018","date":"2018-02-07","price":1002},{"year":"2018","date":"2018-02-08","price":1006},{"year":"2018","date":"2018-02-11","price":1020},{"year":"2018","date":"2018-02-14","price":1031},{"year":"2018","date":"2018-02-17","price":1031},{"year":"2018","date":"2018-02-20","price":1038},{"year":"2018","date":"2018-02-23","price":1040},{"year":"2018","date":"2018-02-26","price":1043},{"year":"2018","date":"2018-03-01","price":1051},{"year":"2018","date":"2018-03-03","price":1056},{"year":"2018","date":"2018-03-05","price":1060},{"year":"2018","date":"2018-03-07","price":1055},{"year":"2018","date":"2018-03-09","price":1036},{"year":"2018","date":"2018-03-12","price":1040},{"year":"2018","date":"2018-03-13","price":1050},{"year":"2018","date":"2018-03-14","price":1031},{"year":"2018","date":"2018-03-16","price":1048},{"year":"2018","date":"2018-03-18","price":1035},{"year":"2018","date":"2018-03-19","price":1027},{"year":"2018","date":"2018-03-21","price":1029},{"year":"2018","date":"2018-03-23","price":1031},{"year":"2018","date":"2018-03-26","price":1029},{"year":"2018","date":"2018-03-28","price":1020},{"year":"2018","date":"2018-03-29","price":1049},{"year":"2018","date":"2018-03-31","price":1047},{"year":"2018","date":"2018-04-03","price":1043},{"year":"2018","date":"2018-04-04","price":1020},{"year":"2018","date":"2018-04-05","price":1035},{"year":"2018","date":"2018-04-08","price":1041},{"year":"2018","date":"2018-04-10","price":1051},{"year":"2018","date":"2018-04-12","price":1060},{"year":"2018","date":"2018-04-15","price":1047},{"year":"2018","date":"2018-04-17","price":1049},{"year":"2018","date":"2018-04-20","price":1040},{"year":"2018","date":"2018-04-23","price":1029},{"year":"2018","date":"2018-04-25","price":1031},{"year":"2018","date":"2018-04-27","price":1047},{"year":"2018","date":"2018-04-29","price":1046},{"year":"2018","date":"2018-05-01","price":1051},{"year":"2018","date":"2018-05-02","price":1042},{"year":"2018","date":"2018-05-03","price":1051},{"year":"2018","date":"2018-05-05","price":1031},{"year":"2018","date":"2018-05-07","price":1017},{"year":"2018","date":"2018-05-09","price":1024},{"year":"2018","date":"2018-05-11","price":1009},{"year":"2018","date":"2018-05-14","price":1021},{"year":"2018","date":"2018-05-15","price":1022},{"year":"2018","date":"2018-05-16","price":1011},{"year":"2018","date":"2018-05-17","price":1000},{"year":"2018","date":"2018-05-19","price":1008},{"year":"2018","date":"2018-05-21","price":1026},{"year":"2018","date":"2018-05-23","price":1042},{"year":"2018","date":"2018-05-25","price":1049},{"year":"2018","date":"2018-05-28","price":1040},{"year":"2018","date":"2018-06-01","price":1029},{"year":"2018","date":"2018-06-03","price":1015},{"year":"2018","date":"2018-06-06","price":1008},{"year":"2018","date":"2018-06-08","price":988},{"year":"2018","date":"2018-06-10","price":969},{"year":"2018","date":"2018-06-12","price":964},{"year":"2018","date":"2018-06-14","price":946},{"year":"2018","date":"2018-06-15","price":917},{"year":"2018","date":"2018-06-18","price":917},{"year":"2018","date":"2018-06-20","price":899},{"year":"2018","date":"2018-06-21","price":890},{"year":"2018","date":"2018-06-23","price":900},{"year":"2018","date":"2018-06-25","price":888},{"year":"2018","date":"2018-06-27","price":877},{"year":"2018","date":"2018-06-29","price":872},{"year":"2018","date":"2018-07-02","price":861},{"year":"2018","date":"2018-07-04","price":841},{"year":"2018","date":"2018-07-06","price":881},{"year":"2018","date":"2018-07-08","price":863},{"year":"2018","date":"2018-07-10","price":853},{"year":"2018","date":"2018-07-13","price":823},{"year":"2018","date":"2018-07-15","price":833},{"year":"2018","date":"2018-07-17","price":843},{"year":"2018","date":"2018-07-20","price":853},{"year":"2018","date":"2018-07-23","price":860},{"year":"2018","date":"2018-07-26","price":868},{"year":"2018","date":"2018-07-28","price":879},{"year":"2018","date":"2018-07-30","price":884},{"year":"2018","date":"2018-07-31","price":910},{"year":"2018","date":"2018-08-01","price":890},{"year":"2018","date":"2018-08-03","price":892},{"year":"2018","date":"2018-08-04","price":885},{"year":"2018","date":"2018-08-06","price":882.5}
]
},
"layer": [
{
"data": {"name": "prices"},
"mark": {"type": "line", "strokeWidth": 2, "clip": true},
"encoding": {
"x": {"field": "date", "type": "temporal",
 "scale": {"type": "utc", "domain": [{"year":2017,"month":9,"date":14,"hours":10,"minutes":30,"utc":true},{"year":2018,"month":9,"date":21,"hours":14,"utc":true}]},
 "axis": {"orient": "bottom", "title": null, "labels": false, "domain": false, "ticks": true, "tickSize": 10, "tickColor": "#4d4d50", "grid": true, "gridColor": "#38383b", "gridWidth": 1,
  "values": [{"year":2017,"month":10,"date":1,"utc":true},{"year":2017,"month":11,"date":1,"utc":true},{"year":2017,"month":12,"date":1,"utc":true},{"year":2018,"month":1,"date":1,"utc":true},{"year":2018,"month":2,"date":1,"utc":true},{"year":2018,"month":3,"date":1,"utc":true},{"year":2018,"month":4,"date":1,"utc":true},{"year":2018,"month":5,"date":1,"utc":true},{"year":2018,"month":6,"date":1,"utc":true},{"year":2018,"month":7,"date":1,"utc":true},{"year":2018,"month":8,"date":1,"utc":true},{"year":2018,"month":9,"date":1,"utc":true}]}},
"y": {"field": "price", "type": "quantitative",
 "scale": {"domain": [750, 1572], "nice": false, "zero": false},
 "axis": {"orient": "right", "title": "Price", "values": [800,850,900,950,1000,1050,1100,1150,1200,1250,1300,1350,1400,1450,1500,1550],
  "labelExpr": "indexof([800,850,1050,1150,1200,1250,1300,1350,1400,1450], datum.value) >= 0 ? format(datum.value, ',') : ''",
  "grid": true, "gridColor": "#38383b", "ticks": false, "domain": false,
  "labelAlign": "left", "labelPadding": 5, "labelColor": "#a3a3a6", "labelFont": "Open Sans", "labelFontSize": 13, "labelOverlap": false, "labelBaseline": "middle",
  "titleAngle": 0, "titleAlign": "left", "titleBaseline": "middle", "titleX": 5, "titleY": 11, "titleColor": "#a3a3a6", "titleFont": "Open Sans", "titleFontSize": 12, "titleFontWeight": "normal"}},
"color": {"field": "year", "type": "nominal", "legend": null,
 "scale": {"domain": ["2013","2014","2015","2016","2017","2018"], "range": ["#f2dc33","#f04e1a","#3b8dd0","#6fcf30","#b023e6","#f5922c"]}}
}
},
{
"data": {"name": "prices"},
"mark": {"type": "line", "opacity": 0},
"encoding": {
"x": {"field": "date", "type": "temporal",
 "scale": {"type": "utc", "domain": [{"year":2017,"month":9,"date":14,"hours":10,"minutes":30,"utc":true},{"year":2018,"month":9,"date":21,"hours":14,"utc":true}]},
 "axis": {"orient": "bottom", "title": null, "format": "%b", "labels": true, "domain": false, "ticks": false, "grid": false, "labelColor": "#8b8d9b", "labelFont": "Roboto", "labelFontSize": 12, "labelPadding": 6, "labelFlush": false, "labelOverlap": false,
  "values": [{"year":2017,"month":9,"date":23,"utc":true},{"year":2017,"month":10,"date":16,"utc":true},{"year":2017,"month":11,"date":16,"utc":true},{"year":2017,"month":12,"date":16,"utc":true},{"year":2018,"month":1,"date":16,"utc":true},{"year":2018,"month":2,"date":14,"utc":true},{"year":2018,"month":3,"date":16,"utc":true},{"year":2018,"month":4,"date":16,"utc":true},{"year":2018,"month":5,"date":16,"utc":true},{"year":2018,"month":6,"date":16,"utc":true},{"year":2018,"month":7,"date":17,"utc":true},{"year":2018,"month":8,"date":16,"utc":true},{"year":2018,"month":9,"date":11,"utc":true}]}},
"y": {"field": "price", "type": "quantitative",
 "axis": {"orient": "right", "title": "Price", "values": [800,850,900,950,1000,1050,1100,1150,1200,1250,1300,1350,1400,1450,1500,1550],
  "labelExpr": "indexof([800,850,1050,1150,1200,1250,1300,1350,1400,1450], datum.value) >= 0 ? format(datum.value, ',') : ''",
  "grid": true, "gridColor": "#38383b", "ticks": false, "domain": false,
  "labelAlign": "left", "labelPadding": 5, "labelColor": "#a3a3a6", "labelFont": "Open Sans", "labelFontSize": 13, "labelOverlap": false, "labelBaseline": "middle",
  "titleAngle": 0, "titleAlign": "left", "titleBaseline": "middle", "titleX": 5, "titleY": 11, "titleColor": "#a3a3a6", "titleFont": "Open Sans", "titleFontSize": 12, "titleFontWeight": "normal"}}
}
},
{
"data": {"name": "annot"},
"mark": {"type": "point", "shape": "circle", "filled": false, "size": 2116, "color": "#ff0a0a", "strokeWidth": 6.5, "opacity": 1},
"encoding": {
"x": {"field": "date", "type": "temporal", "axis": null,
 "scale": {"type": "utc", "domain": [{"year":2017,"month":9,"date":14,"hours":10,"minutes":30,"utc":true},{"year":2018,"month":9,"date":21,"hours":14,"utc":true}]}},
"y": {"field": "price", "type": "quantitative",
 "axis": {"orient": "right", "title": "Price", "values": [800,850,900,950,1000,1050,1100,1150,1200,1250,1300,1350,1400,1450,1500,1550],
  "labelExpr": "indexof([800,850,1050,1150,1200,1250,1300,1350,1400,1450], datum.value) >= 0 ? format(datum.value, ',') : ''",
  "grid": true, "gridColor": "#38383b", "ticks": false, "domain": false,
  "labelAlign": "left", "labelPadding": 5, "labelColor": "#a3a3a6", "labelFont": "Open Sans", "labelFontSize": 13, "labelOverlap": false, "labelBaseline": "middle",
  "titleAngle": 0, "titleAlign": "left", "titleBaseline": "middle", "titleX": 5, "titleY": 11, "titleColor": "#a3a3a6", "titleFont": "Open Sans", "titleFontSize": 12, "titleFontWeight": "normal"}}
}
},
{
"data": {"name": "latest"},
"transform": [{"calculate": "datum.year === '2016' ? datum.last + 35 : (datum.year === '2015' ? datum.last + 40 : datum.last)", "as": "price"}],
"mark": {"type": "rect", "clip": false, "xOffset": 2, "x2Offset": 70, "yOffset": -10, "y2Offset": 10},
"encoding": {
"x": {"datum": {"year":2018,"month":9,"date":21,"hours":14,"utc":true}, "type": "temporal", "axis": null,
 "scale": {"type": "utc", "domain": [{"year":2017,"month":9,"date":14,"hours":10,"minutes":30,"utc":true},{"year":2018,"month":9,"date":21,"hours":14,"utc":true}]}},
"x2": {"datum": {"year":2018,"month":9,"date":21,"hours":14,"utc":true}},
"y": {"field": "price", "type": "quantitative",
 "axis": {"orient": "right", "title": "Price", "values": [800,850,900,950,1000,1050,1100,1150,1200,1250,1300,1350,1400,1450,1500,1550],
  "labelExpr": "indexof([800,850,1050,1150,1200,1250,1300,1350,1400,1450], datum.value) >= 0 ? format(datum.value, ',') : ''",
  "grid": true, "gridColor": "#38383b", "ticks": false, "domain": false,
  "labelAlign": "left", "labelPadding": 5, "labelColor": "#a3a3a6", "labelFont": "Open Sans", "labelFontSize": 13, "labelOverlap": false, "labelBaseline": "middle",
  "titleAngle": 0, "titleAlign": "left", "titleBaseline": "middle", "titleX": 5, "titleY": 11, "titleColor": "#a3a3a6", "titleFont": "Open Sans", "titleFontSize": 12, "titleFontWeight": "normal"}},
"y2": {"field": "price"},
"color": {"field": "year", "type": "nominal", "legend": null}
}
},
{
"data": {"name": "latest"},
"transform": [{"calculate": "datum.year === '2016' ? datum.last + 35 : (datum.year === '2015' ? datum.last + 40 : datum.last)", "as": "price"}],
"mark": {"type": "text", "clip": false, "align": "left", "baseline": "middle", "xOffset": 5, "font": "Open Sans", "fontSize": 14, "fill": "#262626"},
"encoding": {
"x": {"datum": {"year":2018,"month":9,"date":21,"hours":14,"utc":true}, "type": "temporal", "axis": null,
 "scale": {"type": "utc", "domain": [{"year":2017,"month":9,"date":14,"hours":10,"minutes":30,"utc":true},{"year":2018,"month":9,"date":21,"hours":14,"utc":true}]}},
"y": {"field": "price", "type": "quantitative",
 "axis": {"orient": "right", "title": "Price", "values": [800,850,900,950,1000,1050,1100,1150,1200,1250,1300,1350,1400,1450,1500,1550],
  "labelExpr": "indexof([800,850,1050,1150,1200,1250,1300,1350,1400,1450], datum.value) >= 0 ? format(datum.value, ',') : ''",
  "grid": true, "gridColor": "#38383b", "ticks": false, "domain": false,
  "labelAlign": "left", "labelPadding": 5, "labelColor": "#a3a3a6", "labelFont": "Open Sans", "labelFontSize": 13, "labelOverlap": false, "labelBaseline": "middle",
  "titleAngle": 0, "titleAlign": "left", "titleBaseline": "middle", "titleX": 5, "titleY": 11, "titleColor": "#a3a3a6", "titleFont": "Open Sans", "titleFontSize": 12, "titleFontWeight": "normal"}},
"text": {"field": "last", "type": "quantitative", "format": ",.2f"}
}
},
{
"data": {"name": "latest"},
"mark": {"type": "rect", "fill": "#1f1f21", "stroke": "#0c0c0c", "strokeWidth": 1.5, "yOffset": -13, "y2Offset": 13},
"encoding": {
"x": {"field": "year", "type": "nominal", "sort": ["2018","2017","2016","2015","2014","2013"], "axis": null,
 "scale": {"type": "band", "range": [2, 764], "paddingInner": 0.035, "paddingOuter": 0}},
"y": {"datum": 1543, "type": "quantitative",
 "axis": {"orient": "right", "title": "Price", "values": [800,850,900,950,1000,1050,1100,1150,1200,1250,1300,1350,1400,1450,1500,1550],
  "labelExpr": "indexof([800,850,1050,1150,1200,1250,1300,1350,1400,1450], datum.value) >= 0 ? format(datum.value, ',') : ''",
  "grid": true, "gridColor": "#38383b", "ticks": false, "domain": false,
  "labelAlign": "left", "labelPadding": 5, "labelColor": "#a3a3a6", "labelFont": "Open Sans", "labelFontSize": 13, "labelOverlap": false, "labelBaseline": "middle",
  "titleAngle": 0, "titleAlign": "left", "titleBaseline": "middle", "titleX": 5, "titleY": 11, "titleColor": "#a3a3a6", "titleFont": "Open Sans", "titleFontSize": 12, "titleFontWeight": "normal"}},
"y2": {"datum": 1543}
}
},
{
"data": {"name": "latest"},
"mark": {"type": "text", "align": "left", "baseline": "middle", "xOffset": 7, "font": "Roboto", "fontSize": 14.5},
"encoding": {
"x": {"field": "year", "type": "nominal", "sort": ["2018","2017","2016","2015","2014","2013"], "axis": null, "bandPosition": 0,
 "scale": {"type": "band", "range": [2, 764], "paddingInner": 0.035, "paddingOuter": 0}},
"y": {"datum": 1543, "type": "quantitative",
 "axis": {"orient": "right", "title": "Price", "values": [800,850,900,950,1000,1050,1100,1150,1200,1250,1300,1350,1400,1450,1500,1550],
  "labelExpr": "indexof([800,850,1050,1150,1200,1250,1300,1350,1400,1450], datum.value) >= 0 ? format(datum.value, ',') : ''",
  "grid": true, "gridColor": "#38383b", "ticks": false, "domain": false,
  "labelAlign": "left", "labelPadding": 5, "labelColor": "#a3a3a6", "labelFont": "Open Sans", "labelFontSize": 13, "labelOverlap": false, "labelBaseline": "middle",
  "titleAngle": 0, "titleAlign": "left", "titleBaseline": "middle", "titleX": 5, "titleY": 11, "titleColor": "#a3a3a6", "titleFont": "Open Sans", "titleFontSize": 12, "titleFontWeight": "normal"}},
"text": {"field": "year"},
"color": {"field": "year", "type": "nominal", "legend": null}
}
},
{
"data": {"name": "latest"},
"mark": {"type": "text", "align": "left", "baseline": "middle", "xOffset": 45, "font": "Roboto", "fontSize": 14.5, "fill": "#c9c9cc"},
"encoding": {
"x": {"field": "year", "type": "nominal", "sort": ["2018","2017","2016","2015","2014","2013"], "axis": null, "bandPosition": 0,
 "scale": {"type": "band", "range": [2, 764], "paddingInner": 0.035, "paddingOuter": 0}},
"y": {"datum": 1543, "type": "quantitative",
 "axis": {"orient": "right", "title": "Price", "values": [800,850,900,950,1000,1050,1100,1150,1200,1250,1300,1350,1400,1450,1500,1550],
  "labelExpr": "indexof([800,850,1050,1150,1200,1250,1300,1350,1400,1450], datum.value) >= 0 ? format(datum.value, ',') : ''",
  "grid": true, "gridColor": "#38383b", "ticks": false, "domain": false,
  "labelAlign": "left", "labelPadding": 5, "labelColor": "#a3a3a6", "labelFont": "Open Sans", "labelFontSize": 13, "labelOverlap": false, "labelBaseline": "middle",
  "titleAngle": 0, "titleAlign": "left", "titleBaseline": "middle", "titleX": 5, "titleY": 11, "titleColor": "#a3a3a6", "titleFont": "Open Sans", "titleFontSize": 12, "titleFontWeight": "normal"}},
"text": {"field": "last", "type": "quantitative", "format": ",.2f"}
}
}
],
"resolve": {"scale": {"x": "independent"}, "axis": {"x": "independent"}}
}
